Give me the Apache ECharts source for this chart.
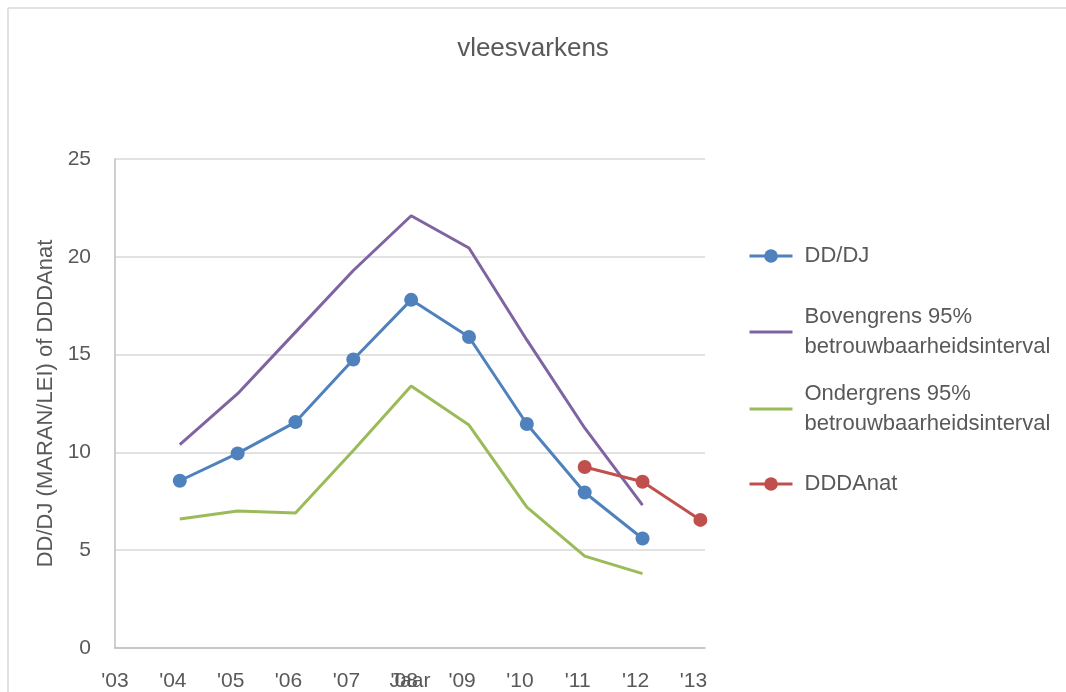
<!DOCTYPE html>
<html>
<head>
<meta charset="utf-8">
<script src="https://cdn.jsdelivr.net/npm/echarts@6/dist/echarts.min.js"></script>
<style>html,body{margin:0;padding:0;background:#fff}#c{width:1066px;height:692px}</style>
</head>
<body>
<div id="c"></div>
<script>
const years = [2004, 2005, 2006, 2007, 2008, 2009, 2010, 2011, 2012, 2013];
const tickYears = [2003, 2004, 2005, 2006, 2007, 2008, 2009, 2010, 2011, 2012, 2013];
const tickLabels = ["'03", "'04", "'05", "'06", "'07", "'08", "'09", "'10", "'11", "'12", "'13"];
const ddDj = [8.55, 9.95, 11.55, 14.75, 17.8, 15.9, 11.45, 7.95, 5.6, null];
const bovengrens = [10.4, 13.0, 16.15, 19.3, 22.1, 20.45, 15.75, 11.25, 7.3, null];
const ondergrens = [6.6, 7.0, 6.9, 10.1, 13.4, 11.4, 7.2, 4.7, 3.8, null];
const dddAnat = [null, null, null, null, null, null, null, 9.25, 8.5, 6.55];
const seriesNames = ['DD/DJ', 'Bovengrens 95%\nbetrouwbaarheidsinterval', 'Ondergrens 95%\nbetrouwbaarheidsinterval', 'DDDAnat'];
const colors = ['#4F81BD', '#8064A2', '#9BBB59', '#C0504D'];

const OFFSET = 0.12; // points sit a little after the year tick (date axis)
const FONT = 'Liberation Sans, Arial, sans-serif';
const TXT = '#595959';

function pairs(vals) {
  return years.map((y, i) => [y + OFFSET, vals[i]]).filter(p => p[1] !== null);
}

const chart = echarts.init(document.getElementById('c'), null, {renderer: 'canvas'});

function mkLegend(name, top, twoLine, withMarker) {
  return {
    show: true, orient: 'vertical', left: 748, top: top, padding: 0,
    itemWidth: 43, itemHeight: 17,
    data: [{name: name}],
    lineStyle: {width: 3},
    itemStyle: withMarker ? {} : {opacity: 0},
    textStyle: {
      fontFamily: FONT, fontSize: 22, color: TXT, lineHeight: 30,
      padding: twoLine ? [30, 0, 0, 7] : [0, 0, 0, 7]
    }
  };
}

const option = {
  backgroundColor: '#fff',
  animation: false,
  title: {
    text: 'vleesvarkens', left: 'center', top: 36, padding: 0,
    textStyle: {fontFamily: FONT, fontSize: 26, fontWeight: 'normal', color: TXT}
  },
  legend: [
    mkLegend(seriesNames[0], 241, false, true),
    mkLegend(seriesNames[1], 287, true, false),
    mkLegend(seriesNames[2], 364, true, false),
    mkLegend(seriesNames[3], 469, false, true)
  ],
  grid: {left: 115, top: 159, right: 361, bottom: 44, containLabel: false, outerBoundsMode: 'none'},
  xAxis: {
    type: 'value', min: tickYears[0], max: 2013.2, interval: 1,
    name: 'Jaar', nameLocation: 'middle', nameGap: 23, nameMoveOverlap: false,
    nameTextStyle: {fontFamily: FONT, fontSize: 21, color: TXT},
    axisLine: {show: true, lineStyle: {color: '#BFBFBF', width: 1.5}},
    axisTick: {show: false},
    splitLine: {show: false},
    axisLabel: {
      margin: 23, fontFamily: FONT, fontSize: 21, color: TXT,
      showMaxLabel: false, hideOverlap: false,
      formatter: v => { const i = tickYears.indexOf(v); return i >= 0 ? tickLabels[i] : ''; }
    }
  },
  yAxis: {
    type: 'value', min: 0, max: 25, interval: 5,
    name: 'DD/DJ (MARAN/LEI) of DDDAnat', nameLocation: 'middle', nameGap: 58, nameRotate: 90,
    nameMoveOverlap: false,
    nameTextStyle: {fontFamily: FONT, fontSize: 22, color: TXT},
    axisLine: {show: true, lineStyle: {color: '#BFBFBF', width: 1.5}},
    axisTick: {show: false},
    splitLine: {show: true, lineStyle: {color: '#D9D9D9', width: 1.5}},
    axisLabel: {margin: 24, fontFamily: FONT, fontSize: 21, color: TXT}
  },
  series: [
    {name: seriesNames[0], type: 'line', data: pairs(ddDj), color: colors[0],
     symbol: 'circle', symbolSize: 14, lineStyle: {width: 3}, z: 4},
    {name: seriesNames[1], type: 'line', data: pairs(bovengrens), color: colors[1],
     symbol: 'none', showSymbol: false, lineStyle: {width: 3}, z: 2},
    {name: seriesNames[2], type: 'line', data: pairs(ondergrens), color: colors[2],
     symbol: 'none', showSymbol: false, lineStyle: {width: 3}, z: 2},
    {name: seriesNames[3], type: 'line', data: pairs(dddAnat), color: colors[3],
     symbol: 'circle', symbolSize: 14, lineStyle: {width: 3}, z: 5}
  ],
  graphic: [
    {type: 'line', shape: {x1: 8, y1: 8, x2: 1066, y2: 8}, style: {stroke: '#D9D9D9', lineWidth: 1.5}, silent: true},
    {type: 'line', shape: {x1: 8, y1: 8, x2: 8, y2: 692}, style: {stroke: '#D9D9D9', lineWidth: 1.5}, silent: true}
  ]
};
chart.setOption(option);
</script>
</body>
</html>
